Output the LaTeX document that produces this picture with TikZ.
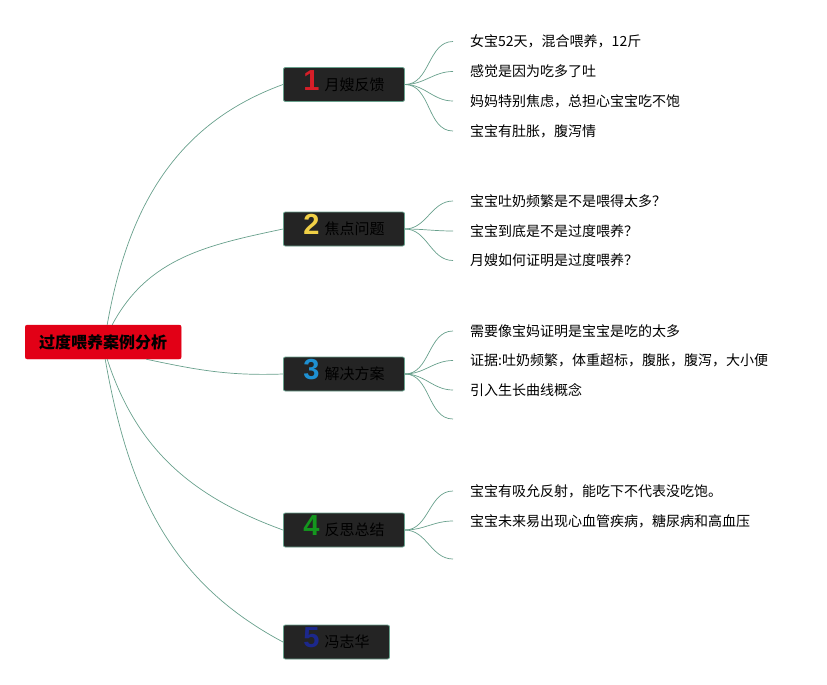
\documentclass[tikz,border=0pt]{standalone}
\usepackage{fontspec}
\setmainfont{Noto Sans CJK SC}
\newfontfamily\numfont{Liberation Sans}
\definecolor{linkgreen}{RGB}{104,160,140}
\definecolor{rootred}{RGB}{226,0,22}
\definecolor{boxgray}{RGB}{36,36,36}
\definecolor{numred}{RGB}{214,30,40}
\definecolor{numyellow}{RGB}{240,208,70}
\definecolor{numblue}{RGB}{30,144,210}
\definecolor{numgreen}{RGB}{20,150,30}
\definecolor{numnavy}{RGB}{28,40,140}
\newcommand{\topicnum}[2]{\smash{\textcolor{#1}{\numfont\fontsize{29}{29}\selectfont\bfseries #2}}\hspace{5pt}}

\begin{document}
\begin{tikzpicture}[x=1pt,y=-1pt]
\tikzstyle{every node}+=[inner sep=0pt]
\tikzstyle{rootbox}=[draw=rootred,fill=rootred,rounded corners=2pt,minimum height=34pt,inner xsep=14pt,font=\fontsize{16}{16}\selectfont\bfseries,anchor=west]
\tikzstyle{topicbox}=[draw=linkgreen,fill=boxgray,line width=0.8pt,rounded corners=2pt,minimum height=34pt,inner xsep=20pt,font=\fontsize{15}{15}\selectfont,text=black,anchor=west]
\tikzstyle{leaf}=[anchor=west,inner xsep=17pt,font=\fontsize{14}{14}\selectfont]
\tikzstyle{link}=[draw=linkgreen,line width=0.7pt]
\useasboundingbox (0,0) rectangle (827,685);
\node[rootbox] (root) at (25,342) {过度喂养案例分析};
\node[topicbox] (t1) at (283,84.5) {\topicnum{numred}{1}月嫂反馈};
\node[topicbox] (t2) at (283,229) {\topicnum{numyellow}{2}焦点问题};
\node[topicbox] (t3) at (283,374) {\topicnum{numblue}{3}解决方案};
\node[topicbox] (t4) at (283,530) {\topicnum{numgreen}{4}反思总结};
\node[topicbox] (t5) at (283,642) {\topicnum{numnavy}{5}冯志华};
\node[leaf] (l11) at (453,41.5) {女宝52天，混合喂养，12斤};
\node[leaf] (l12) at (453,71.5) {感觉是因为吃多了吐};
\node[leaf] (l13) at (453,101) {妈妈特别焦虑，总担心宝宝吃不饱};
\node[leaf] (l14) at (453,131) {宝宝有肚胀，腹泻情};
\node[leaf] (l21) at (453,201) {宝宝吐奶频繁是不是喂得太多？};
\node[leaf] (l22) at (453,231) {宝宝到底是不是过度喂养？};
\node[leaf] (l23) at (453,260.5) {月嫂如何证明是过度喂养？};
\node[leaf] (l31) at (453,331) {需要像宝妈证明是宝宝是吃的太多};
\node[leaf] (l32) at (453,360.5) {证据:吐奶频繁，体重超标，腹胀，腹泻，大小便};
\node[leaf] (l33) at (453,390) {引入生长曲线概念};
\coordinate (l34) at (453,419);
\node[leaf] (l41) at (453,491) {宝宝有吸允反射，能吃下不代表没吃饱。};
\node[leaf] (l42) at (453,521) {宝宝未来易出现心血管疾病，糖尿病和高血压};
\coordinate (l43) at (453,559);
\draw[link] ([xshift=4pt]root.north) to[out=80,in=200] (t1.west);
\draw[link] ([xshift=9pt]root.north) to[out=62,in=192] (t2.west);
\draw[link] ([xshift=43pt]root.south) to[out=-12,in=182] (t3.west);
\draw[link] ([xshift=4pt]root.south) to[out=-72,in=160] (t4.west);
\draw[link] ([xshift=2pt]root.south) to[out=-80,in=152] (t5.west);
\draw[link] (t1.east) to[out=0,in=180] (l11.west);
\draw[link] (t1.east) to[out=0,in=180] (l12.west);
\draw[link] (t1.east) to[out=0,in=180] (l13.west);
\draw[link] (t1.east) to[out=0,in=180] (l14.west);
\draw[link] (t2.east) to[out=0,in=180] (l21.west);
\draw[link] (t2.east) to[out=0,in=180] (l22.west);
\draw[link] (t2.east) to[out=0,in=180] (l23.west);
\draw[link] (t3.east) to[out=0,in=180] (l31.west);
\draw[link] (t3.east) to[out=0,in=180] (l32.west);
\draw[link] (t3.east) to[out=0,in=180] (l33.west);
\draw[link] (t3.east) to[out=0,in=180] (l34);
\draw[link] (t4.east) to[out=0,in=180] (l41.west);
\draw[link] (t4.east) to[out=0,in=180] (l42.west);
\draw[link] (t4.east) to[out=0,in=180] (l43);
\end{tikzpicture}
\end{document}
